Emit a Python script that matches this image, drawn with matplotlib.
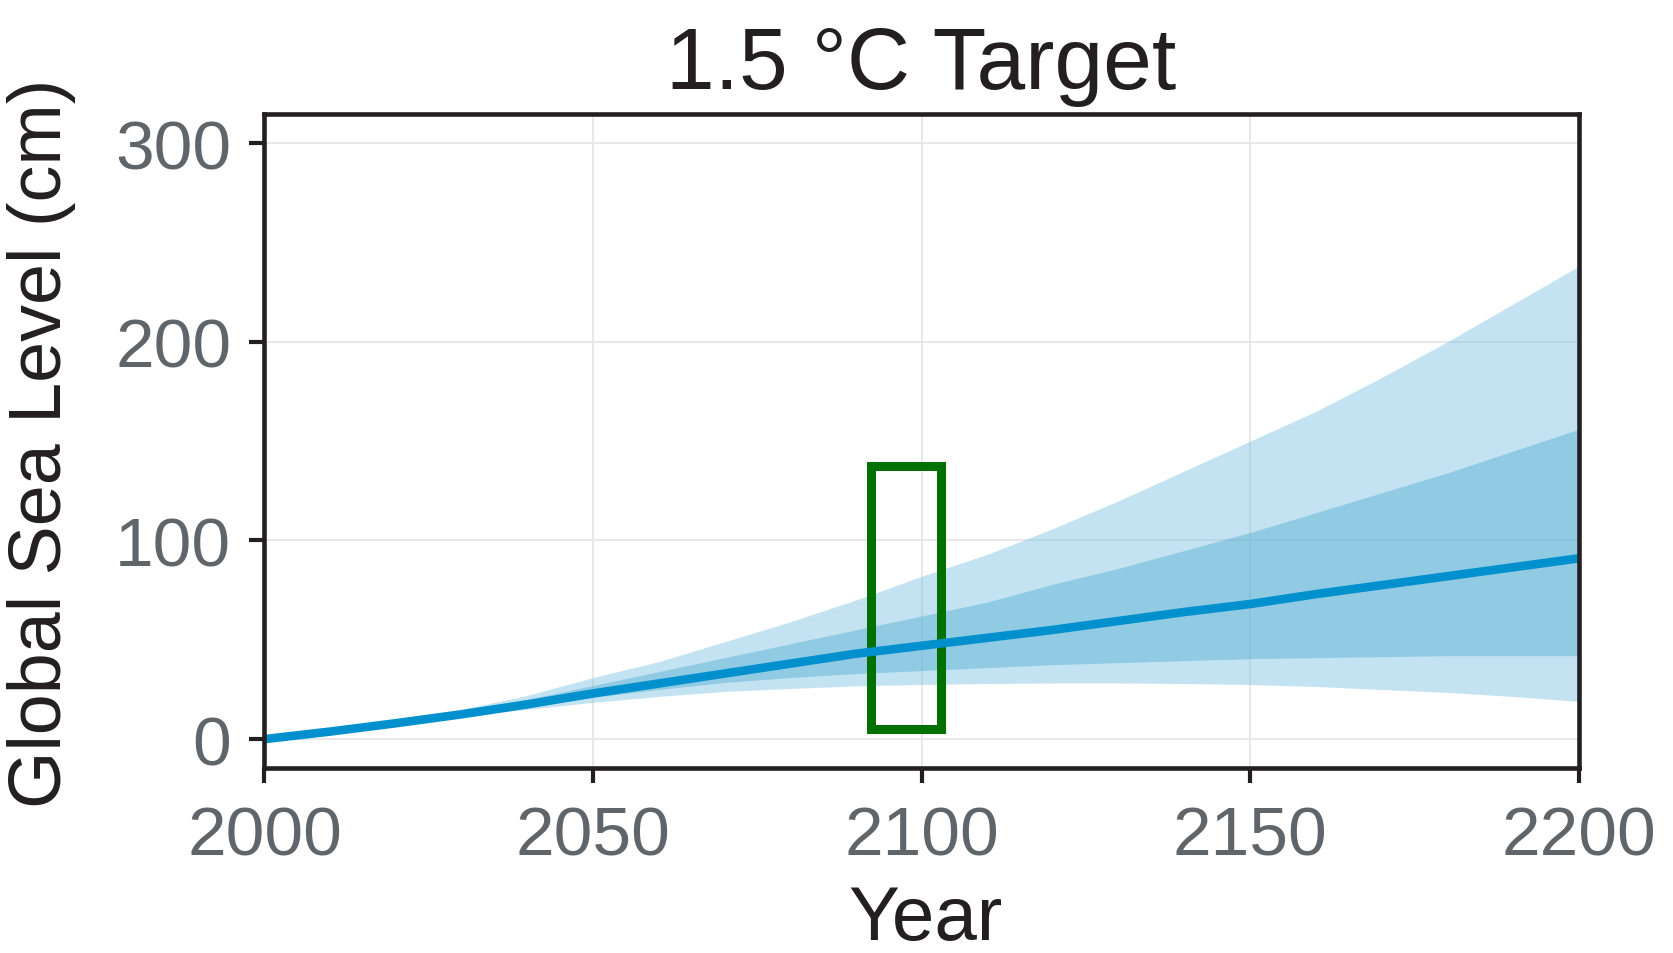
import numpy as np
import matplotlib.pyplot as plt
from matplotlib.patches import Rectangle

plt.rcParams['font.family'] = ['Liberation Sans', 'DejaVu Sans']

# -------------------------------
# data
# -------------------------------
years = [2000, 2010, 2020, 2030, 2040, 2050, 2060, 2070, 2080, 2090, 2100,
         2110, 2120, 2130, 2140, 2150, 2160, 2170, 2180, 2190, 2200]
median = [0, 3.8, 8, 12.5, 17.5, 23, 28, 33, 38, 43, 47,
          51, 55, 59.5, 64, 68, 73, 77.5, 82, 86.5, 91]
outer_hi = [0, 4, 9, 15, 22, 31, 39, 49, 59, 70, 82,
            93, 106, 120, 135, 150, 165, 182, 200, 219, 238]
outer_lo = [0, 3.6, 7, 11.5, 15, 18.5, 21.5, 24, 25.5, 26.8, 27.5,
            28, 28.3, 28.3, 28, 27.5, 26.5, 25, 23.5, 21.5, 19]
inner_hi = [0, 3.9, 8.5, 13.5, 20, 27, 34, 41, 48, 55, 62,
            69, 78, 86, 95, 104, 114, 124, 134, 145, 156]
inner_lo = [0, 3.7, 7.5, 12, 16.5, 21, 25, 28.5, 31, 33, 34.5,
            36, 37.5, 38.5, 39.5, 40.5, 41, 41.5, 42, 42, 42]

# target box for 2100
box_years = [2092.3, 2103]
box_range = [5, 137.6]

title = "1.5 °C Target"
xticks = [2000, 2050, 2100, 2150, 2200]
yticks = [0, 100, 200, 300]

# -------------------------------
# plot
# -------------------------------
fig = plt.figure(figsize=(16.74, 9.54), dpi=100)
ax = fig.add_axes([0.158, 0.194, 0.785, 0.685])

ax.fill_between(years, outer_lo, outer_hi, color='#6BBBE0', alpha=0.4, lw=0)
ax.fill_between(years, inner_lo, inner_hi, color='#60B4D5', alpha=0.5, lw=0)
ax.plot(years, median, color='#0090CE', lw=6.2, solid_capstyle='butt')

ax.add_patch(Rectangle((box_years[0], box_range[0]),
                       box_years[1] - box_years[0], box_range[1] - box_range[0],
                       fill=False, edgecolor='#007000', lw=6.5))

ax.set_xlim(2000, 2200)
ax.set_ylim(-14.5, 314.5)
ax.set_xticks(xticks)
ax.set_yticks(yticks)
ax.grid(True, color='#E6E6E6', lw=1.3)
ax.set_axisbelow(True)

for s in ax.spines.values():
    s.set_linewidth(3.3)
    s.set_color('#231F20')
ax.tick_params(axis='both', direction='out', length=11, width=3.0,
               color='#231F20', labelcolor='#5F6569', labelsize=50)
ax.tick_params(axis='x', pad=15)
ax.tick_params(axis='y', pad=13)

ax.set_title(title, fontsize=63, color='#231F20', pad=19)
fig.text(0.025, 0.535, "Global Sea Level (cm)", rotation=90, fontsize=53,
         color='#231F20', ha='center', va='center')
fig.text(0.553, 0.035, "Year", fontsize=55, color='#231F20',
         ha='center', va='center')

plt.savefig("out.png", dpi=100)
